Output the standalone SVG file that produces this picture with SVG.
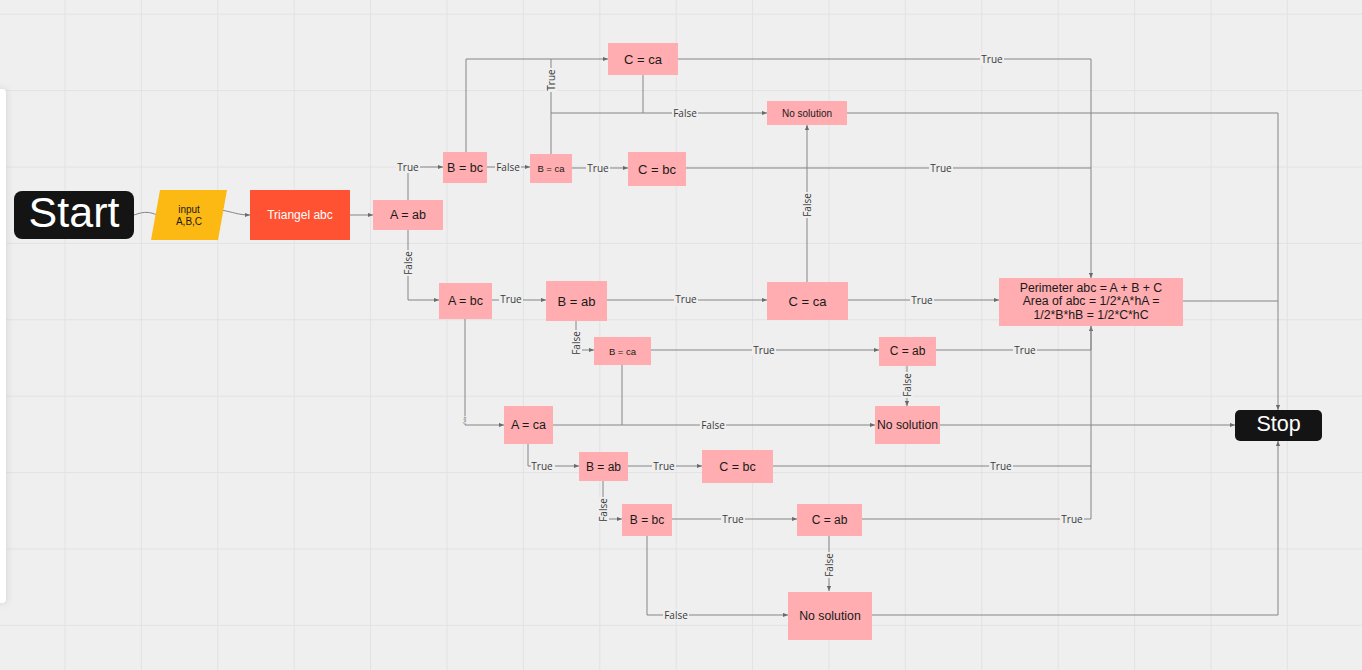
<svg xmlns="http://www.w3.org/2000/svg" width="1362" height="670" viewBox="0 0 1362 670">
<defs>
<style>
.grid line{stroke:#e2e2e2;stroke-width:1}
.c path{fill:none;stroke:#858585;stroke-width:1}
.a{marker-end:url(#arr)}
.lb rect{fill:#efefef}
.lb text{font-family:"Open Sans","DejaVu Sans",sans-serif;font-size:10px;fill:#3a3a3a;text-anchor:middle;dominant-baseline:central}
.pk{fill:#ffadb0}
.nt{font-family:"Liberation Sans",Arial,sans-serif;fill:#1a1a1a;text-anchor:middle;dominant-baseline:central}
.wt{font-family:"Liberation Sans",Arial,sans-serif;fill:#ffffff;text-anchor:middle;dominant-baseline:central}
</style>
<marker id="arr" viewBox="0 0 6 6" refX="6" refY="3" markerWidth="5" markerHeight="5" orient="auto" markerUnits="userSpaceOnUse"><path d="M0,0.5 L6,3 L0,5.5 z" fill="#6a6a6a"/></marker>
<filter id="sh" x="-100%" y="-10%" width="300%" height="120%"><feGaussianBlur stdDeviation="3"/></filter>
</defs>
<rect x="0" y="0" width="1362" height="670" fill="#efefef"/>
<g class="grid">
<line x1="65" y1="0" x2="65" y2="670"/><line x1="141.4" y1="0" x2="141.4" y2="670"/><line x1="217.8" y1="0" x2="217.8" y2="670"/><line x1="294.2" y1="0" x2="294.2" y2="670"/><line x1="370.6" y1="0" x2="370.6" y2="670"/><line x1="447" y1="0" x2="447" y2="670"/><line x1="523.4" y1="0" x2="523.4" y2="670"/><line x1="599.8" y1="0" x2="599.8" y2="670"/><line x1="676.2" y1="0" x2="676.2" y2="670"/><line x1="752.6" y1="0" x2="752.6" y2="670"/><line x1="829" y1="0" x2="829" y2="670"/><line x1="905.4" y1="0" x2="905.4" y2="670"/><line x1="981.8" y1="0" x2="981.8" y2="670"/><line x1="1058.2" y1="0" x2="1058.2" y2="670"/><line x1="1134.6" y1="0" x2="1134.6" y2="670"/><line x1="1211" y1="0" x2="1211" y2="670"/><line x1="1287.4" y1="0" x2="1287.4" y2="670"/>
<line x1="0" y1="14.2" x2="1362" y2="14.2"/><line x1="0" y1="90.6" x2="1362" y2="90.6"/><line x1="0" y1="167" x2="1362" y2="167"/><line x1="0" y1="243.4" x2="1362" y2="243.4"/><line x1="0" y1="319.8" x2="1362" y2="319.8"/><line x1="0" y1="396.2" x2="1362" y2="396.2"/><line x1="0" y1="472.6" x2="1362" y2="472.6"/><line x1="0" y1="549" x2="1362" y2="549"/><line x1="0" y1="625.4" x2="1362" y2="625.4"/>
</g>
<rect x="-8" y="88" width="16" height="516" rx="5" fill="#cfcfcf" opacity="0.6" filter="url(#sh)"/>
<rect x="-8" y="89" width="14" height="514" rx="4" fill="#ffffff"/>

<g id="connectors" class="c">
<path d="M134,215 C145,211 150,212 157,215"/>
<path class="a" d="M221,210 C233,212 238,215 250,215"/>
<path class="a" d="M350,215 H373"/>
<path class="a" d="M408,200 V167 H443"/>
<path class="a" d="M408,230 V300 H439"/>
<path class="a" d="M487,167 H530"/>
<path class="a" d="M466,152 V59 H608"/>
<path class="a" d="M572,168 H628"/>
<path d="M551,154 V59"/>
<path d="M551,113 H643"/>
<path class="a" d="M643,75 V113 H767"/>
<path class="a" d="M678,59 H1091 V278"/>
<path d="M686,168 H1091"/>
<path class="a" d="M847,113 H1278 V410"/>
<path class="a" d="M807,282 V125"/>
<path class="a" d="M492,300 H546"/>
<path class="a" d="M607,300 H767"/>
<path class="a" d="M848,300 H999"/>
<path d="M1183,301 H1278"/>
<path class="a" d="M576,321 V350 H594"/>
<path class="a" d="M651,350 H879"/>
<path class="a" d="M936,350 H1091 V326"/>
<path class="a" d="M907,365 V406"/>
<path class="a" d="M465,319 V425 H504"/>
<path class="a" d="M553,425 H875"/>
<path d="M622,365 V425"/>
<path class="a" d="M940,425 H1235"/>
<path class="a" d="M528,444 V466 H579"/>
<path class="a" d="M628,466 H702"/>
<path d="M772,466 H1091"/>
<path class="a" d="M603,481 V519 H622"/>
<path class="a" d="M671,519 H797"/>
<path d="M862,519 H1091 V326"/>
<path class="a" d="M829,535 V591"/>
<path class="a" d="M647,535 V615 H788"/>
<path class="a" d="M871,615 H1278 V441"/>
<g class="lb">
<g transform="translate(408,167)"><rect x="-12" y="-6" width="24" height="12"/><text>True</text></g>
<g transform="translate(408,263) rotate(-90)"><rect x="-13" y="-6" width="26" height="12"/><text>False</text></g>
<g transform="translate(508,167)"><rect x="-13" y="-6" width="26" height="12"/><text>False</text></g>
<g transform="translate(598,168)"><rect x="-12" y="-6" width="24" height="12"/><text>True</text></g>
<g transform="translate(551,80) rotate(-90)"><rect x="-12" y="-6" width="24" height="12"/><text>True</text></g>
<g transform="translate(685,113)"><rect x="-13" y="-6" width="26" height="12"/><text>False</text></g>
<g transform="translate(992,59)"><rect x="-12" y="-6" width="24" height="12"/><text>True</text></g>
<g transform="translate(941,168)"><rect x="-12" y="-6" width="24" height="12"/><text>True</text></g>
<g transform="translate(807,205) rotate(-90)"><rect x="-13" y="-6" width="26" height="12"/><text>False</text></g>
<g transform="translate(511,299)"><rect x="-12" y="-6" width="24" height="12"/><text>True</text></g>
<g transform="translate(686,299)"><rect x="-12" y="-6" width="24" height="12"/><text>True</text></g>
<g transform="translate(922,300)"><rect x="-12" y="-6" width="24" height="12"/><text>True</text></g>
<g transform="translate(576,343) rotate(-90)"><rect x="-13" y="-6" width="26" height="12"/><text>False</text></g>
<g transform="translate(764,350)"><rect x="-12" y="-6" width="24" height="12"/><text>True</text></g>
<g transform="translate(1025,350)"><rect x="-12" y="-6" width="24" height="12"/><text>True</text></g>
<g transform="translate(907,385) rotate(-90)"><rect x="-13" y="-6" width="26" height="12"/><text>False</text></g>
<g transform="translate(465,420) rotate(-90)"><rect x="-4" y="-2" width="8" height="4"/><text style="font-size:3px">False</text></g>
<g transform="translate(713,425)"><rect x="-13" y="-6" width="26" height="12"/><text>False</text></g>
<g transform="translate(542,466)"><rect x="-11" y="-6" width="24" height="12"/><text>True</text></g>
<g transform="translate(664,466)"><rect x="-12" y="-6" width="24" height="12"/><text>True</text></g>
<g transform="translate(1001,466)"><rect x="-12" y="-6" width="24" height="12"/><text>True</text></g>
<g transform="translate(603,510) rotate(-90)"><rect x="-13" y="-6" width="26" height="12"/><text>False</text></g>
<g transform="translate(733,519)"><rect x="-12" y="-6" width="24" height="12"/><text>True</text></g>
<g transform="translate(1072,519)"><rect x="-12" y="-6" width="24" height="12"/><text>True</text></g>
<g transform="translate(829,565) rotate(-90)"><rect x="-13" y="-6" width="26" height="12"/><text>False</text></g>
<g transform="translate(676,615)"><rect x="-13" y="-6" width="26" height="12"/><text>False</text></g>
</g>
</g>

<g id="start"><rect x="14" y="191" width="120" height="48" rx="8" fill="#141414"/><text class="wt" x="74" y="212" font-size="43">Start</text></g>
<g id="input"><polygon points="160,190 227,190 218,240 151,240" fill="#fdb913"/><text class="nt" x="189" y="209" font-size="10">input</text><text class="nt" x="189" y="221" font-size="10">A,B,C</text></g>
<g id="triangel"><rect x="250" y="190" width="100" height="50" fill="#ff5233"/><text class="wt" x="300" y="215" font-size="12">Triangel abc</text></g>
<g id="a-ab"><rect class="pk" x="373" y="200" width="70" height="30"/><text class="nt" x="408" y="215" font-size="12.5">A = ab</text></g>
<g id="b-bc-top"><rect class="pk" x="443" y="152" width="44" height="31"/><text class="nt" x="465" y="167.5" font-size="12.5">B = bc</text></g>
<g id="b-ca-top"><rect class="pk" x="530" y="154" width="42" height="29"/><text class="nt" x="551" y="168.5" font-size="9.5">B = ca</text></g>
<g id="c-bc-top"><rect class="pk" x="628" y="152" width="58" height="34"/><text class="nt" x="657" y="169" font-size="13">C = bc</text></g>
<g id="c-ca-top"><rect class="pk" x="608" y="43" width="70" height="32"/><text class="nt" x="643" y="59" font-size="13">C = ca</text></g>
<g id="nosol-top"><rect class="pk" x="767" y="101" width="80" height="24"/><text class="nt" x="807" y="113" font-size="10">No solution</text></g>
<g id="a-bc"><rect class="pk" x="439" y="283" width="53" height="36"/><text class="nt" x="465.5" y="301" font-size="12.5">A = bc</text></g>
<g id="b-ab-mid"><rect class="pk" x="546" y="281" width="61" height="40"/><text class="nt" x="576.5" y="301" font-size="13">B = ab</text></g>
<g id="c-ca-mid"><rect class="pk" x="767" y="282" width="81" height="38"/><text class="nt" x="807.5" y="301" font-size="13">C = ca</text></g>
<g id="perimeter"><rect class="pk" x="999" y="278" width="184" height="48"/><text class="nt" x="1091" y="288" font-size="12.3">Perimeter abc = A + B + C</text><text class="nt" x="1091" y="301.3" font-size="12.3">Area of abc = 1/2*A*hA =</text><text class="nt" x="1091" y="314.6" font-size="12.3">1/2*B*hB = 1/2*C*hC</text></g>
<g id="b-ca-mid"><rect class="pk" x="594" y="337" width="57" height="28"/><text class="nt" x="622.5" y="351" font-size="9.5">B = ca</text></g>
<g id="c-ab-mid"><rect class="pk" x="879" y="337" width="57" height="29"/><text class="nt" x="907.5" y="351" font-size="12">C = ab</text></g>
<g id="nosol-mid"><rect class="pk" x="875" y="406" width="65" height="38"/><text class="nt" x="907.5" y="425" font-size="12.2">No solution</text></g>
<g id="a-ca"><rect class="pk" x="504" y="406" width="49" height="38"/><text class="nt" x="528.5" y="425" font-size="12.5">A = ca</text></g>
<g id="b-ab-low"><rect class="pk" x="579" y="452" width="49" height="29"/><text class="nt" x="603.5" y="466.5" font-size="12">B = ab</text></g>
<g id="c-bc-low"><rect class="pk" x="702" y="450" width="71" height="33"/><text class="nt" x="737.5" y="466.5" font-size="12.5">C = bc</text></g>
<g id="b-bc-low"><rect class="pk" x="622" y="504" width="50" height="32"/><text class="nt" x="647" y="520" font-size="12">B = bc</text></g>
<g id="c-ab-low"><rect class="pk" x="797" y="504" width="65" height="32"/><text class="nt" x="829.5" y="520" font-size="12">C = ab</text></g>
<g id="nosol-low"><rect class="pk" x="788" y="592" width="84" height="48"/><text class="nt" x="830" y="616" font-size="12.3">No solution</text></g>
<g id="stop"><rect x="1235" y="410" width="87" height="31" rx="5" fill="#141414"/><text class="wt" x="1278.5" y="424" font-size="21.5">Stop</text></g>
</svg>
